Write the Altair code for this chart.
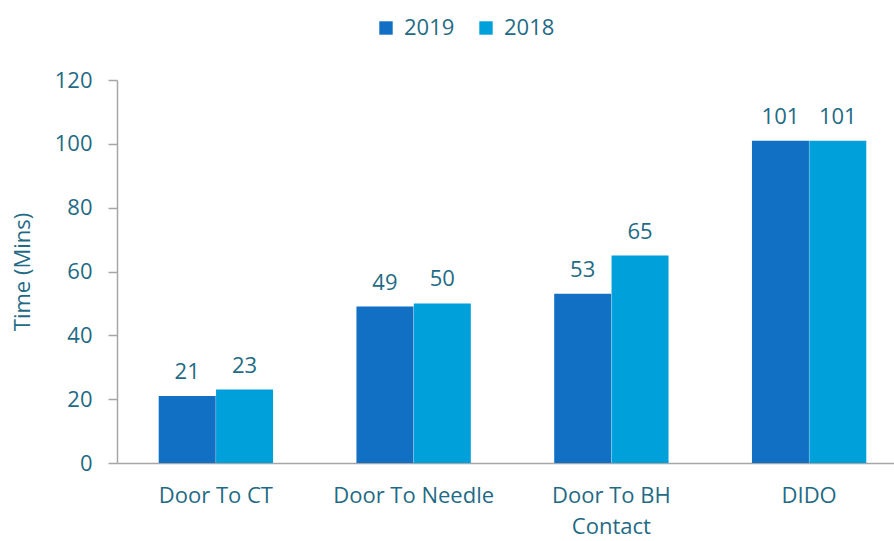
import altair as alt
import pandas as pd

categories = ["Door To CT", "Door To Needle", "Door To BH Contact", "DIDO"]
values_2019 = [21, 49, 53, 101]
values_2018 = [23, 50, 65, 101]
years = ["2019", "2018"]
colors = ["#1170C4", "#00A0DA"]

rows = []
for c, a, b in zip(categories, values_2019, values_2018):
    rows.append({"category": c, "year": "2019", "value": a})
    rows.append({"category": c, "year": "2018", "value": b})
df = pd.DataFrame(rows)

FONT = "Open Sans"
TXT = "#1F6B85"
GREY = "#A6A6A6"
FS = 22

x = alt.X("category:N", sort=categories, title=None,
          scale=alt.Scale(paddingInner=0.42, paddingOuter=0.21),
          axis=alt.Axis(labelAngle=0, ticks=False, domainColor=GREY, domainWidth=1.5,
                        labelFont=FONT, labelFontSize=FS, labelColor=TXT,
                        labelPadding=22, labelLineHeight=31, labelLimit=300,
                        labelExpr="datum.label == 'Door To BH Contact' ? ['Door To BH', 'Contact'] : datum.label"))
xo = alt.XOffset("year:N", sort=years)
y = alt.Y("value:Q", title="Time (Mins)",
          scale=alt.Scale(domain=[0, 120], nice=False),
          axis=alt.Axis(values=[0, 20, 40, 60, 80, 100, 120], grid=False,
                        domainColor=GREY, domainWidth=1.5, tickColor=GREY, tickSize=9, tickWidth=1.5,
                        labelFont=FONT, labelFontSize=FS, labelColor=TXT, labelPadding=16,
                        titleFont=FONT, titleFontSize=FS, titleColor=TXT, titleFontWeight="normal",
                        titlePadding=20))
color = alt.Color("year:N", sort=years, scale=alt.Scale(domain=years, range=colors),
                  legend=alt.Legend(title=None, orient="none", direction="horizontal",
                                    legendX=258, legendY=-63, symbolType="square",
                                    symbolSize=180, symbolStrokeWidth=0,
                                    labelFont=FONT, labelFontSize=FS, labelColor=TXT,
                                    columnPadding=20, symbolOffset=0, labelOffset=7))

base = alt.Chart(df).encode(x=x, xOffset=xo)
bars = base.mark_bar(size=57).encode(y=y, color=color)
labels = base.mark_text(baseline="bottom", dy=-12, font=FONT, fontSize=FS, color=TXT).encode(
    y=alt.Y("value:Q"), text=alt.Text("value:Q"))

chart = (bars + labels).properties(
    width=791, height=383,
    autosize=alt.AutoSizeParams(type="none"),
    padding={"left": 117, "top": 80, "right": -14, "bottom": 78},
).configure(background="white").configure_view(stroke=None)

chart.save("out.html", embed_options={"renderer": "svg", "actions": False})
